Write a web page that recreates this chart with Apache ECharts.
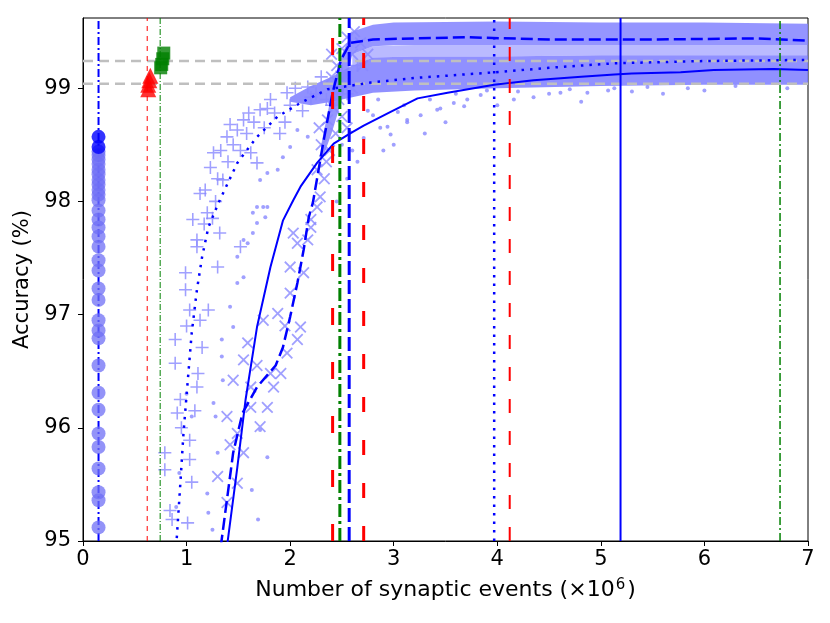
<!DOCTYPE html>
<html lang="en">
  <head>
    <meta charset="UTF-8" />
    <title>Accuracy vs synaptic events</title>
    <style>
      html,
      body {
        margin: 0;
        padding: 0;
        background: #fff;
      }
      #chart {
        width: 830px;
        height: 623px;
      }
    </style>
  </head>
  <body>
    <div id="chart"></div>
    <script src="https://cdn.jsdelivr.net/npm/echarts@6/dist/echarts.min.js"></script>
    <script>
      // axis ranges and ticks
      const xMin = 0, xMax = 7;
      const yMin = 95, yMax = 99.62;
      const xTicks = [0, 1, 2, 3, 4, 5, 6, 7];
      const yTicks = [95, 96, 97, 98, 99];

      // mean curves
      const dottedCurve = [[0.9, 94.95], [0.94, 95.51], [0.97, 95.95], [1.01, 96.4], [1.05, 96.84], [1.1, 97.22], [1.15, 97.51], [1.21, 97.77], [1.31, 97.99], [1.49, 98.34], [1.68, 98.57], [1.88, 98.75], [2.1, 98.87], [2.36, 98.99], [2.78, 99.05], [3.2, 99.09], [3.97, 99.14], [4.5, 99.18], [5.13, 99.22], [6.0, 99.24], [7.0, 99.25]];
      const dashedCurve = [[1.33, 94.95], [1.45, 95.78], [1.54, 96.13], [1.68, 96.36], [1.86, 96.55], [1.93, 96.71], [2.0, 96.98], [2.07, 97.28], [2.13, 97.57], [2.18, 97.86], [2.22, 97.99], [2.32, 98.52], [2.41, 98.96], [2.49, 99.25], [2.58, 99.4], [2.8, 99.43], [3.2, 99.44], [3.7, 99.45], [4.5, 99.43], [5.5, 99.43], [6.5, 99.44], [7.0, 99.42]];
      const solidCurve = [[1.39, 94.95], [1.49, 95.65], [1.57, 96.25], [1.68, 96.89], [1.81, 97.42], [1.93, 97.83], [2.03, 98.01], [2.1, 98.13], [2.26, 98.34], [2.42, 98.51], [2.58, 98.6], [2.71, 98.67], [2.97, 98.79], [3.23, 98.91], [3.52, 98.96], [3.97, 99.03], [4.35, 99.07], [4.81, 99.1], [5.13, 99.12], [5.3, 99.13], [5.77, 99.14], [6.09, 99.16], [6.67, 99.17], [7.0, 99.16]];

      // individual runs
      const plusPoints = [[0.79, 95.63], [0.79, 95.78], [0.84, 95.27], [0.86, 95.19], [0.89, 96.57], [0.89, 96.78], [0.91, 96.13], [0.94, 96.25], [0.99, 97.22], [0.99, 97.37], [1.01, 95.16], [1.03, 95.72], [1.03, 95.89], [1.03, 97.04], [1.05, 95.52], [1.06, 97.84], [1.1, 96.36], [1.1, 97.6], [1.1, 97.66], [1.11, 96.48], [1.13, 96.95], [1.13, 98.07], [1.15, 96.71], [1.2, 97.9], [1.21, 97.04], [1.23, 98.3], [1.26, 98.43], [1.3, 97.42], [1.32, 97.72], [1.35, 98.19], [1.39, 98.57], [1.49, 98.63], [1.52, 97.6], [1.55, 98.72], [1.62, 98.43], [1.68, 98.34], [1.71, 98.81], [1.81, 98.9], [1.97, 98.96], [2.17, 99.01], [1.4, 98.35], [1.45, 98.5], [1.58, 98.6], [1.75, 98.65], [1.85, 98.78], [1.9, 98.6], [2.0, 98.85], [2.05, 99.0], [2.12, 98.8], [2.25, 98.95], [2.3, 99.1], [2.35, 98.9], [2.45, 99.05], [2.5, 99.15], [2.55, 98.95], [2.65, 99.2], [1.65, 98.7], [1.3, 98.2], [1.18, 98.1], [1.25, 97.85], [1.0, 96.9], [0.95, 96.0], [1.08, 96.15], [1.52, 98.45], [1.6, 98.78], [1.78, 98.82], [1.95, 98.7], [2.2, 98.92], [2.4, 98.85], [1.42, 98.68], [1.33, 98.45], [1.17, 97.8], [1.28, 98.0]];
      const crossPoints = [[1.3, 95.57], [1.39, 95.34], [1.39, 96.1], [1.45, 96.42], [1.49, 95.51], [1.49, 95.95], [1.55, 95.78], [1.59, 96.75], [1.62, 96.18], [1.62, 96.36], [1.71, 96.01], [1.74, 96.95], [1.78, 96.18], [1.81, 96.48], [1.84, 96.36], [1.88, 97.01], [1.91, 96.48], [1.97, 96.66], [2.0, 97.19], [2.0, 97.42], [2.03, 97.72], [2.07, 96.78], [2.07, 97.63], [2.1, 96.89], [2.13, 97.37], [2.17, 97.66], [2.2, 97.84], [2.2, 97.77], [2.26, 97.95], [2.26, 98.28], [2.29, 98.04], [2.36, 98.72], [2.42, 98.83], [2.3, 98.5], [2.33, 98.2], [2.38, 98.45], [2.4, 99.1], [2.45, 99.2], [2.47, 98.9], [2.5, 99.35], [2.52, 99.05], [2.55, 99.45], [2.6, 99.3], [2.62, 99.5], [2.68, 99.4], [1.68, 96.55], [1.95, 96.9], [1.55, 96.6], [1.42, 95.85], [2.35, 98.35], [2.44, 98.6], [2.5, 98.75], [2.55, 98.65], [2.6, 99.0], [2.7, 99.2], [2.28, 98.65], [2.4, 99.3], [2.75, 99.3]];
      const dotPoints = [[1.2, 95.42], [1.21, 95.25], [1.25, 95.1], [1.26, 96.22], [1.28, 96.1], [1.3, 95.78], [1.34, 96.63], [1.34, 96.78], [1.35, 96.42], [1.42, 97.07], [1.45, 96.89], [1.49, 97.28], [1.49, 97.51], [1.55, 97.33], [1.55, 97.66], [1.59, 97.63], [1.63, 95.45], [1.64, 97.72], [1.64, 97.9], [1.68, 97.81], [1.68, 97.95], [1.69, 95.19], [1.71, 95.98], [1.71, 98.19], [1.74, 97.95], [1.76, 97.86], [1.78, 95.74], [1.78, 97.95], [1.78, 98.25], [1.88, 98.28], [1.93, 98.39], [2.0, 98.48], [2.07, 98.63], [2.17, 98.57], [2.71, 98.56], [2.8, 98.76], [2.87, 98.65], [2.94, 98.66], [2.97, 98.59], [3.04, 98.79], [3.13, 98.7], [3.13, 98.72], [3.26, 98.76], [3.42, 98.81], [3.45, 98.82], [3.58, 98.87], [3.68, 98.84], [3.71, 98.9], [3.84, 98.94], [4.16, 98.9], [4.35, 98.92], [4.61, 98.96], [4.81, 98.88], [4.87, 98.96], [5.07, 98.98], [5.13, 99.0], [5.45, 99.01], [5.84, 99.0], [0.9, 95.3], [0.93, 95.6], [1.0, 96.3], [1.05, 96.1], [2.3, 98.4], [2.5, 98.5], [2.6, 98.45], [2.65, 98.35], [2.55, 98.2], [2.45, 98.0], [3.3, 98.6], [3.5, 98.7], [4.0, 98.85], [4.5, 98.95], [3.0, 98.5], [2.9, 98.45], [6.3, 99.02], [6.8, 99.0], [5.6, 98.95], [4.2, 98.97], [2.75, 98.8], [2.85, 98.9], [3.1, 98.85], [3.35, 98.9], [3.6, 98.95], [3.9, 98.98], [4.7, 98.99], [5.3, 98.97], [6.0, 98.98]];

      // dense part of the clouds (lower / upper edge)
      const plusBandX = [2.0, 2.2, 2.4, 2.6, 2.8, 3.2, 4.0, 5.0, 6.0, 7.0];
      const plusBandLo = [98.88, 98.85, 98.88, 98.92, 98.96, 98.98, 99.0, 99.02, 99.03, 99.03];
      const plusBandHi = [98.92, 99.02, 99.1, 99.2, 99.27, 99.28, 99.28, 99.29, 99.29, 99.29];
      const midBandX = [2.6, 2.8, 3.2, 4.0, 5.0, 6.0, 7.0];
      const midBandLo = [99.2, 99.27, 99.28, 99.28, 99.29, 99.29, 99.29];
      const midBandHi = [99.3, 99.37, 99.38, 99.38, 99.38, 99.38, 99.38];
      const crossBandX = [2.3, 2.4, 2.5, 2.6, 2.8, 3.0, 4.0, 5.0, 6.0, 7.0];
      const crossBandLo = [98.35, 98.6, 98.9, 99.3, 99.37, 99.38, 99.38, 99.38, 99.38, 99.38];
      const crossBandHi = [98.5, 98.95, 99.3, 99.5, 99.56, 99.58, 99.59, 99.58, 99.58, 99.57];

      // other methods
      const circleX = 0.15;
      const circleLight = [95.12, 95.36, 95.43, 95.64, 95.83, 95.95, 96.16, 96.31, 96.55, 96.79, 96.86, 96.95, 97.13, 97.23, 97.39, 97.48, 97.6, 97.69, 97.77, 97.84, 97.92, 98.01, 98.06, 98.1, 98.15, 98.19, 98.24, 98.28, 98.33, 98.37, 98.41, 98.44];
      const circleDark = [98.48, 98.57];
      const triangles = [[0.63, 98.99], [0.63, 99.03], [0.64, 99.07], [0.65, 99.11]];
      const squares = [[0.75, 99.18], [0.76, 99.21], [0.77, 99.26], [0.78, 99.31]];

      // reference lines
      const hLines = [99.24, 99.04];
      const vLines = [
        { x: 0.15, color: "#0000ff", width: 2, dash: [8, 3, 2, 3] },
        { x: 0.62, color: "#ff0000", width: 1, dash: [5, 5] },
        { x: 0.745, color: "#008000", width: 1, dash: [6, 2, 1, 2] },
        { x: 2.41, color: "#ff0000", width: 3, dash: [17, 37] },
        { x: 2.48, color: "#008000", width: 3, dash: [13, 4, 3, 4] },
        { x: 2.57, color: "#0000ff", width: 3, dash: [14, 5] },
        { x: 2.71, color: "#ff0000", width: 3, dash: [15, 28] },
        { x: 3.97, color: "#0000ff", width: 2.5, dash: [2.5, 6] },
        { x: 4.12, color: "#ff0000", width: 2, dash: [14, 18] },
        { x: 5.19, color: "#0000ff", width: 2, dash: "solid" },
        { x: 6.73, color: "#008000", width: 1.5, dash: [8, 3, 2, 3] },
      ];

      const FONT = "DejaVu Sans";
      const LIGHT = "#8888ff";
      const PLUS = "path://M44,0H56V44H100V56H56V100H44V56H0V44H44Z";

      // one filled polygon between lo and hi edges
      function band(xs, lo, hi, color) {
        return {
          type: "custom",
          silent: true,
          clip: true,
          data: xs.map((x, i) => [x, lo[i], hi[i]]),
          renderItem: function (params, api) {
            if (params.dataIndex !== 0) return null;
            const pts = [];
            xs.forEach((x, i) => pts.push(api.coord([x, hi[i]])));
            for (let i = xs.length - 1; i >= 0; i--) pts.push(api.coord([xs[i], lo[i]]));
            return { type: "polygon", shape: { points: pts }, style: { fill: color } };
          },
          z: 1,
        };
      }

      const series = [];
      series.push(band(plusBandX, plusBandLo, plusBandHi, "rgba(125,125,255,0.85)"));
      series.push(band(midBandX, midBandLo, midBandHi, "rgba(140,140,255,0.6)"));
      series.push(band(crossBandX, crossBandLo, crossBandHi, "rgba(130,130,255,0.85)"));

      series.push({
        type: "scatter",
        symbol: "circle",
        symbolSize: 4,
        itemStyle: { color: LIGHT },
        data: dotPoints,
        z: 2,
      });
      series.push({
        type: "scatter",
        symbol: PLUS,
        symbolSize: 13,
        itemStyle: { color: LIGHT },
        data: plusPoints,
        z: 2,
      });
      series.push({
        type: "scatter",
        symbol: PLUS,
        symbolSize: 15,
        symbolRotate: 45,
        itemStyle: { color: LIGHT },
        data: crossPoints,
        z: 2,
      });

      hLines.forEach((y) => {
        series.push({
          type: "line",
          symbol: "none",
          silent: true,
          lineStyle: { color: "#bfbfbf", width: 2.5, type: [10, 6] },
          data: [[xMin, y], [xMax, y]],
          z: 3,
        });
      });

      series.push({
        type: "line",
        symbol: "none",
        lineStyle: { color: "#0000ff", width: 2.5, type: [2.5, 6] },
        data: dottedCurve,
        z: 4,
      });
      series.push({
        type: "line",
        symbol: "none",
        lineStyle: { color: "#0000ff", width: 2.5, type: [12, 5] },
        data: dashedCurve,
        z: 4,
      });
      series.push({
        type: "line",
        symbol: "none",
        lineStyle: { color: "#0000ff", width: 2 },
        data: solidCurve,
        z: 4,
      });

      vLines.forEach((v) => {
        series.push({
          type: "line",
          symbol: "none",
          silent: true,
          lineStyle: { color: v.color, width: v.width, type: v.dash },
          data: [[v.x, yMin], [v.x, yMax]],
          z: 5,
        });
      });

      series.push({
        type: "scatter",
        symbol: "circle",
        symbolSize: 14,
        itemStyle: { color: "#6f6ff5", opacity: 0.75 },
        data: circleLight.map((y) => [circleX, y]),
        z: 6,
      });
      series.push({
        type: "scatter",
        symbol: "circle",
        symbolSize: 14,
        itemStyle: { color: "#0000ff" },
        data: circleDark.map((y) => [circleX, y]),
        z: 6,
      });
      series.push({
        type: "scatter",
        symbol: "triangle",
        symbolSize: 16,
        itemStyle: { color: "#ff0000" },
        data: triangles,
        z: 6,
      });
      series.push({
        type: "scatter",
        symbol: "rect",
        symbolSize: 13,
        itemStyle: { color: "#008000" },
        data: squares,
        z: 6,
      });

      const chart = echarts.init(document.getElementById("chart"), null, { renderer: "canvas" });
      chart.setOption({
        animation: false,
        backgroundColor: "#fff",
        textStyle: { fontFamily: FONT },
        grid: {
          left: 83,
          right: 22,
          top: 18,
          bottom: 82,
          show: true,
          borderColor: "#000",
          borderWidth: 1,
          backgroundColor: "transparent",
        },
        xAxis: {
          type: "value",
          min: xMin,
          max: xMax,
          interval: 1,
          name: "Number of synaptic events (×10{sup|6})",
          nameLocation: "middle",
          nameGap: 37,
          nameTextStyle: {
            fontFamily: FONT,
            fontSize: 22,
            color: "#000",
            rich: {
              sup: { fontFamily: FONT, fontSize: 15, color: "#000", verticalAlign: "top", padding: [0, 2, 10, 1] },
            },
          },
          splitLine: { show: false },
          axisLine: { show: true, onZero: false, lineStyle: { color: "#000", width: 1 } },
          axisTick: { show: true, inside: false, length: 5, lineStyle: { color: "#000" }, customValues: xTicks },
          axisLabel: { fontFamily: FONT, fontSize: 21, color: "#000", margin: 8, customValues: xTicks },
        },
        yAxis: {
          type: "value",
          min: yMin,
          max: yMax,
          interval: 1,
          name: "Accuracy (%)",
          nameLocation: "middle",
          nameGap: 48,
          nameTextStyle: { fontFamily: FONT, fontSize: 21, color: "#000" },
          splitLine: { show: false },
          axisLine: { show: true, onZero: false, lineStyle: { color: "#000", width: 1 } },
          axisTick: { show: true, inside: false, length: 5, lineStyle: { color: "#000" }, customValues: yTicks },
          axisLabel: { fontFamily: FONT, fontSize: 21, color: "#000", margin: 12, customValues: yTicks },
        },
        series: series,
      });
    </script>
  </body>
</html>
